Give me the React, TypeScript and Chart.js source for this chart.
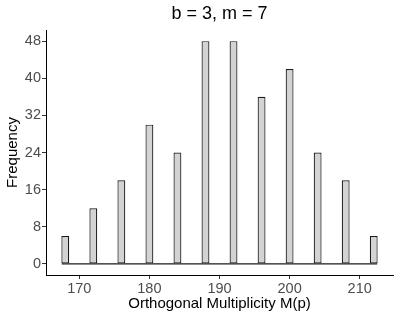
import React, { useEffect, useRef } from "react";
import { Chart, registerables } from "chart.js";

Chart.register(...registerables);

// ---- Data ----
const binCenters = [168, 172, 176, 180, 184, 188, 192, 196, 200, 204, 208, 212];
const frequencies = [6, 12, 18, 30, 24, 48, 48, 36, 42, 24, 18, 6];
const baselineX = [167.5, 212.5];
const xTickValues = [170, 180, 190, 200, 210];
const yTickValues = [0, 8, 16, 24, 32, 40, 48];
const xLimits = [165.25, 214.75];
const yLimits = [-2.4, 50.4];
const binWidth = 1;
const binSpacing = 4;

const titleText = "b = 3, m = 7";
const xTitle = "Orthogonal Multiplicity M(p)";
const yTitle = "Frequency";

const FONT = "'Liberation Sans', Arial, Helvetica, sans-serif";
// ggplot strokes sit centred on the bin edge, Chart.js draws them inside: widen slightly
const strokeOutset = 1.12;

export default function App() {
  const ref = useRef<HTMLCanvasElement | null>(null);

  useEffect(() => {
    if (!ref.current) return;
    const chart = new Chart(ref.current, {
      type: "bar",
      data: {
        datasets: [
          {
            type: "line",
            data: baselineX.map((x) => ({ x, y: 0 })),
            borderColor: "#1a1a1a",
            borderWidth: 1.2,
            pointRadius: 0,
            order: 1,
          } as any,
          {
            type: "bar",
            data: binCenters.map((x, i) => ({ x, y: frequencies[i] })),
            backgroundColor: "#D3D3D3",
            borderColor: "#1a1a1a",
            borderWidth: 1.2,
            borderSkipped: false,
            inflateAmount: 0,
            barPercentage: (binWidth / binSpacing) * strokeOutset,
            categoryPercentage: 1,
            order: 0,
          } as any,
        ],
      },
      options: {
        animation: false,
        responsive: true,
        maintainAspectRatio: false,
        layout: { padding: { top: 0, right: 6, bottom: 0, left: 0 } },
        plugins: {
          legend: { display: false },
          tooltip: { enabled: false },
          title: {
            display: true,
            text: titleText,
            position: "top",
            align: "center",
            fullSize: false,
            color: "#000",
            font: { family: FONT, size: 18, weight: "normal" },
            padding: { top: 3.7, bottom: 4.7 },
          },
        },
        scales: {
          x: {
            type: "linear",
            min: xLimits[0],
            max: xLimits[1],
            offset: false,
            afterBuildTicks: (scale: any) => {
              scale.ticks = xTickValues.map((v) => ({ value: v }));
            },
            afterFit: (scale: any) => {
              scale.height = 44;
            },
            grid: {
              display: true,
              drawOnChartArea: false,
              drawTicks: true,
              tickLength: 4,
              color: "#333333",
              lineWidth: 1,
              offset: false,
            },
            border: { display: true, color: "#000", width: 1 },
            ticks: {
              color: "#4D4D4D",
              font: { family: FONT, size: 14.5 },
              padding: 1,
              maxRotation: 0,
              autoSkip: false,
              callback: (v: any) => String(v),
            },
            title: {
              display: true,
              text: xTitle,
              color: "#000",
              font: { family: FONT, size: 15 },
              padding: { top: 0, bottom: 6.5 },
            },
          },
          y: {
            type: "linear",
            min: yLimits[0],
            max: yLimits[1],
            afterBuildTicks: (scale: any) => {
              scale.ticks = yTickValues.map((v) => ({ value: v }));
            },
            afterFit: (scale: any) => {
              scale.width = 46;
            },
            grid: {
              display: true,
              drawOnChartArea: false,
              drawTicks: true,
              tickLength: 4,
              color: "#333333",
              lineWidth: 1,
            },
            border: { display: true, color: "#000", width: 1 },
            ticks: {
              color: "#4D4D4D",
              font: { family: FONT, size: 14.5 },
              padding: 1,
              autoSkip: false,
              callback: (v: any) => String(v),
            },
            title: {
              display: true,
              text: yTitle,
              color: "#000",
              font: { family: FONT, size: 15 },
              padding: { top: 4, bottom: 0 },
            },
          },
        },
      },
    });
    return () => chart.destroy();
  }, []);

  return (
    <div style={{ position: "fixed", left: 0, top: 0, width: 399, height: 319 }}>
      <canvas ref={ref} />
    </div>
  );
}
